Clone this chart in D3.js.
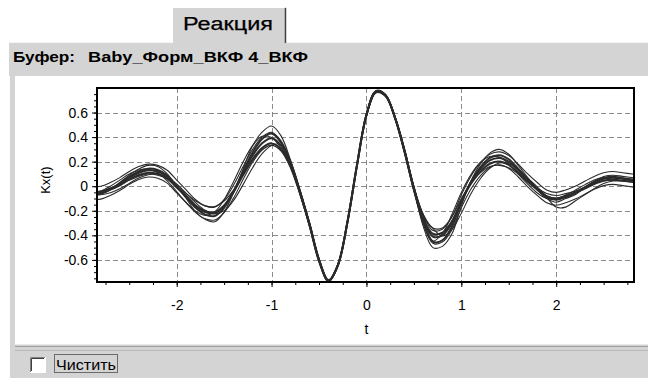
<!DOCTYPE html>
<html><head><meta charset="utf-8">
<script src="https://cdn.jsdelivr.net/npm/d3@7"></script>
<style>
html,body{margin:0;padding:0;background:#fff;}
svg{display:block;}
text{font-family:"Liberation Sans",Arial,sans-serif;}
</style></head><body>
<svg id="chart" width="648" height="381"></svg>
<script>
// Texts
const tabTitle = "Реакция";
const bufferLabel = "Буфер:";
const bufferName = "Baby_Форм_ВКФ 4_ВКФ";
const clearLabel = "Чистить";
const xTitle = "t";
const yTitle = "Kx(t)";

// Axes
const xTicks = [-2, -1, 0, 1, 2];
const yTicks = [-0.6, -0.4, -0.2, 0, 0.2, 0.4, 0.6];
const xDomain = [-2.84, 2.82];
const yDomain = [-0.78, 0.80];

// Lag grid shared by all traces
const tValues = [-2.9,-2.8,-2.7,-2.6,-2.5,-2.4,-2.3,-2.2,-2.1,-2.0,
  -1.9,-1.8,-1.7,-1.6,-1.5,-1.4,-1.3,-1.2,-1.1,-1.0,
  -0.9,-0.8,-0.7,-0.6,-0.5,-0.4,-0.3,-0.2,-0.1,0.0,
  0.1,0.2,0.3,0.4,0.5,0.6,0.7,0.8,0.9,1.0,
  1.1,1.2,1.3,1.4,1.5,1.6,1.7,1.8,1.9,2.0,
  2.1,2.2,2.3,2.4,2.5,2.6,2.7,2.8,2.9];

// Correlation traces Kx(t), one per record in the buffer
const kxMedian = [-0.055,-0.05,-0.02,0.02,0.07,0.11,0.13,0.12,0.08,0.00,
  -0.08,-0.16,-0.21,-0.22,-0.16,-0.04,0.11,0.25,0.35,0.39,
  0.33,0.18,-0.05,-0.31,-0.60,-0.77,-0.64,-0.29,0.17,0.58,
  0.77,0.74,0.56,0.29,-0.02,-0.27,-0.41,-0.40,-0.30,-0.12,
  0.03,0.14,0.21,0.23,0.20,0.13,0.05,-0.02,-0.08,-0.10,
  -0.08,-0.05,-0.01,0.03,0.06,0.07,0.06,0.05,0.04];
const kxMidHigh = [-0.06,-0.055,-0.022,0.022,0.077,0.121,0.143,0.132,0.088,0.00,
  -0.088,-0.176,-0.231,-0.242,-0.176,-0.044,0.121,0.275,0.385,0.429,
  0.356,0.191,-0.052,-0.318,-0.606,-0.772,-0.642,-0.291,0.17,0.58,
  0.772,0.742,0.562,0.296,-0.021,-0.289,-0.451,-0.44,-0.33,-0.132,
  0.033,0.154,0.231,0.253,0.22,0.143,0.055,-0.022,-0.088,-0.11,
  -0.088,-0.055,-0.011,0.033,0.066,0.077,0.066,0.055,0.044];
const kxMidLow = [-0.061,-0.056,-0.028,0.008,0.054,0.091,0.11,0.10,0.064,-0.01,
  -0.084,-0.157,-0.203,-0.212,-0.157,-0.047,0.091,0.22,0.312,0.349,
  0.301,0.165,-0.052,-0.306,-0.596,-0.77,-0.64,-0.29,0.17,0.58,
  0.77,0.74,0.56,0.283,-0.023,-0.262,-0.387,-0.378,-0.286,-0.12,
  0.018,0.119,0.183,0.202,0.174,0.11,0.036,-0.028,-0.084,-0.102,
  -0.084,-0.056,-0.019,0.018,0.045,0.054,0.045,0.036,0.027];
const kxHigh = [-0.07,-0.065,-0.03,0.03,0.09,0.14,0.17,0.16,0.10,0.00,
  -0.10,-0.21,-0.27,-0.29,-0.21,-0.05,0.14,0.33,0.44,0.49,
  0.41,0.21,-0.06,-0.33,-0.62,-0.78,-0.65,-0.30,0.17,0.59,
  0.78,0.75,0.57,0.31,-0.02,-0.33,-0.50,-0.49,-0.39,-0.16,
  0.04,0.18,0.27,0.30,0.26,0.17,0.07,-0.03,-0.10,-0.13,
  -0.10,-0.07,-0.01,0.04,0.08,0.09,0.08,0.07,0.05];
const kxLow = [-0.04,-0.04,-0.015,0.015,0.05,0.08,0.10,0.09,0.06,0.00,
  -0.06,-0.12,-0.16,-0.165,-0.12,-0.03,0.09,0.21,0.31,0.35,
  0.30,0.17,-0.05,-0.30,-0.59,-0.76,-0.63,-0.28,0.17,0.57,
  0.76,0.73,0.55,0.28,-0.01,-0.23,-0.34,-0.34,-0.25,-0.10,
  0.02,0.11,0.16,0.17,0.15,0.10,0.04,-0.015,-0.06,-0.075,
  -0.06,-0.04,-0.01,0.02,0.045,0.05,0.045,0.04,0.03];
const kxUp = [-0.005,0.00,0.03,0.07,0.12,0.16,0.18,0.17,0.13,0.05,
  -0.03,-0.11,-0.16,-0.17,-0.11,0.01,0.16,0.30,0.40,0.44,
  0.37,0.21,-0.03,-0.30,-0.595,-0.768,-0.638,-0.288,0.172,0.582,
  0.772,0.742,0.562,0.30,0.00,-0.235,-0.36,-0.35,-0.25,-0.07,
  0.08,0.19,0.26,0.28,0.25,0.18,0.10,0.03,-0.03,-0.05,
  -0.03,0.00,0.04,0.08,0.11,0.12,0.11,0.10,0.09];
const kxDown = [-0.11,-0.105,-0.075,-0.035,0.015,0.055,0.075,0.065,0.025,-0.055,
  -0.135,-0.215,-0.265,-0.275,-0.215,-0.095,0.055,0.195,0.295,0.335,
  0.286,0.147,-0.072,-0.324,-0.605,-0.772,-0.642,-0.292,0.168,0.578,
  0.768,0.738,0.558,0.279,-0.042,-0.309,-0.465,-0.455,-0.355,-0.175,
  -0.025,0.085,0.155,0.175,0.145,0.075,-0.005,-0.075,-0.135,-0.155,
  -0.135,-0.105,-0.065,-0.025,0.005,0.015,0.005,-0.005,-0.015];
const kxLead = [-0.058,-0.039,0.00,0.05,0.099,0.132,0.138,0.11,0.044,-0.044,
  -0.132,-0.204,-0.237,-0.209,-0.11,0.039,0.198,0.33,0.407,0.396,
  0.31,0.16,-0.06,-0.315,-0.60,-0.77,-0.64,-0.29,0.17,0.58,
  0.77,0.74,0.56,0.285,-0.03,-0.29,-0.446,-0.385,-0.231,-0.05,
  0.094,0.193,0.242,0.237,0.182,0.099,0.017,-0.055,-0.099,-0.099,
  -0.072,-0.033,0.011,0.05,0.072,0.072,0.06,0.05,0.044];
const kxLag = [-0.07,-0.07,-0.053,-0.02,0.023,0.066,0.094,0.099,0.075,0.018,
  -0.058,-0.134,-0.196,-0.224,-0.20,-0.115,0.013,0.151,0.265,0.332,
  0.34,0.20,-0.03,-0.30,-0.595,-0.77,-0.645,-0.295,0.165,0.575,
  0.765,0.745,0.565,0.30,0.00,-0.25,-0.343,-0.405,-0.353,-0.22,
  -0.063,0.061,0.146,0.189,0.184,0.137,0.066,-0.006,-0.09,-0.17,
  -0.17,-0.12,-0.07,-0.02,0.023,0.042,0.042,0.032,0.023];
const outerTraces = [kxHigh, kxLow, kxUp, kxDown, kxLead, kxLag];
const coreTraces = [kxMidHigh, kxMidLow, kxMedian];

const svg = d3.select("#chart");
const panelGray = "#d4d4d4";

// ---- window chrome ----
// tab
svg.append("rect").attr("x", 172).attr("y", 7).attr("width", 114).attr("height", 38).attr("fill", panelGray);
svg.append("path").attr("d", "M172.5,43 V7.5 H285").attr("fill", "none").attr("stroke", "#ffffff").attr("stroke-width", 1);
svg.append("path").attr("d", "M285.5,8 V43").attr("fill", "none").attr("stroke", "#404040").attr("stroke-width", 1.5);
svg.append("text").attr("x", 183).attr("y", 30).attr("font-size", 18)
  .attr("textLength", 90).attr("lengthAdjust", "spacingAndGlyphs")
  .attr("fill", "#000").attr("stroke", "#000").attr("stroke-width", 0.25).text(tabTitle);

// header bar with buffer name
svg.append("rect").attr("x", 9).attr("y", 43).attr("width", 639).attr("height", 33).attr("fill", panelGray);
svg.append("line").attr("x1", 9).attr("x2", 172).attr("y1", 42.5).attr("y2", 42.5).attr("stroke", "#f4f4f4");
svg.append("line").attr("x1", 287).attr("x2", 648).attr("y1", 42.5).attr("y2", 42.5).attr("stroke", "#f4f4f4");
svg.append("text").attr("x", 13).attr("y", 62).attr("font-size", 14).attr("font-weight", "bold")
  .attr("textLength", 62).attr("lengthAdjust", "spacingAndGlyphs").attr("fill", "#000").text(bufferLabel);
svg.append("text").attr("x", 88).attr("y", 62).attr("font-size", 14).attr("font-weight", "bold")
  .attr("textLength", 220).attr("lengthAdjust", "spacingAndGlyphs").attr("fill", "#000").text(bufferName);

// left frame strip
svg.append("rect").attr("x", 10).attr("y", 76).attr("width", 5).attr("height", 270).attr("fill", panelGray);

// bottom bar
svg.append("rect").attr("x", 10).attr("y", 344).attr("width", 638).attr("height", 34).attr("fill", panelGray);
svg.append("line").attr("x1", 15).attr("x2", 648).attr("y1", 344.5).attr("y2", 344.5).attr("stroke", "#e8e8e8");
svg.append("line").attr("x1", 15).attr("x2", 648).attr("y1", 346.5).attr("y2", 346.5).attr("stroke", "#a0a0a0");
svg.append("line").attr("x1", 15).attr("x2", 648).attr("y1", 350.5).attr("y2", 350.5).attr("stroke", "#b8b8b8");
// checkbox
svg.append("rect").attr("x", 30).attr("y", 357).attr("width", 15).attr("height", 15).attr("fill", "#fff");
svg.append("path").attr("d", "M30.5,372 V357.5 H45").attr("fill", "none").attr("stroke", "#808080");
svg.append("path").attr("d", "M31.5,371 V358.5 H44").attr("fill", "none").attr("stroke", "#404040");
svg.append("path").attr("d", "M30,372.5 H45.5 V357").attr("fill", "none").attr("stroke", "#ffffff");
svg.append("text").attr("x", 56).attr("y", 369.5).attr("font-size", 15)
  .attr("textLength", 60).attr("lengthAdjust", "spacingAndGlyphs").attr("fill", "#000").text(clearLabel);
svg.append("rect").attr("x", 54.5).attr("y", 354.5).attr("width", 63).attr("height", 18)
  .attr("fill", "none").attr("stroke", "#000").attr("stroke-dasharray", "1,1");

// ---- plot ----
const plot = {left: 97, right: 634, top: 88, bottom: 282};
const x = d3.scaleLinear().domain(xDomain).range([plot.left, plot.right]);
const y = d3.scaleLinear().domain(yDomain).range([plot.bottom, plot.top]);

// grid
const grid = svg.append("g").attr("stroke", "#8a8a8a").attr("stroke-width", 1).attr("stroke-dasharray", "5,3");
grid.selectAll("line.gx").data(xTicks).join("line")
  .attr("x1", d => Math.round(x(d)) + 0.5).attr("x2", d => Math.round(x(d)) + 0.5)
  .attr("y1", plot.top).attr("y2", plot.bottom);
grid.selectAll("line.gy").data(yTicks).join("line")
  .attr("y1", d => Math.round(y(d)) + 0.5).attr("y2", d => Math.round(y(d)) + 0.5)
  .attr("x1", plot.left).attr("x2", plot.right);

// traces
svg.append("clipPath").attr("id", "clip").append("rect")
  .attr("x", plot.left).attr("y", plot.top).attr("width", plot.right - plot.left).attr("height", plot.bottom - plot.top);
const line = d3.line().x((d, i) => x(tValues[i])).y(d => y(d)).curve(d3.curveCatmullRom.alpha(0.5));
const traceLayer = svg.append("g").attr("clip-path", "url(#clip)").attr("fill", "none").attr("stroke", "#2b2b2b");
traceLayer.selectAll("path.outer").data(outerTraces).join("path").attr("class", "outer")
  .attr("d", line).attr("stroke-width", 1.1);
traceLayer.selectAll("path.core").data(coreTraces).join("path").attr("class", "core")
  .attr("d", line).attr("stroke-width", 2);

// axes
const fmt = d => String(d);
const xMinor = d3.range(-2.75, 2.8, 0.25);
const yMinor = d3.range(-0.75, 0.8, 0.05).map(v => Math.round(v * 100) / 100);
const xAxisMinor = svg.append("g").attr("transform", `translate(0,${plot.bottom})`)
  .call(d3.axisBottom(x).tickValues(xMinor).tickSize(3).tickFormat(""));
const xAxis = svg.append("g").attr("transform", `translate(0,${plot.bottom})`)
  .call(d3.axisBottom(x).tickValues(xTicks).tickSize(5).tickPadding(13).tickFormat(fmt));
const yAxisMinor = svg.append("g").attr("transform", `translate(${plot.left},0)`)
  .call(d3.axisLeft(y).tickValues(yMinor).tickSize(3).tickFormat(""));
const yAxis = svg.append("g").attr("transform", `translate(${plot.left},0)`)
  .call(d3.axisLeft(y).tickValues(yTicks).tickSize(5).tickPadding(4).tickFormat(fmt));
[xAxisMinor, xAxis, yAxisMinor, yAxis].forEach(g => {
  g.select(".domain").remove();
  g.selectAll("line").attr("stroke", "#000");
  g.selectAll("text").attr("font-family", "Liberation Sans, Arial, sans-serif").attr("font-size", 14).attr("fill", "#000");
});

// frame
svg.append("rect").attr("x", plot.left).attr("y", plot.top).attr("width", plot.right - plot.left).attr("height", plot.bottom - plot.top)
  .attr("fill", "none").attr("stroke", "#000").attr("stroke-width", 2);

// axis titles
svg.append("text").attr("x", x(0)).attr("y", 334).attr("text-anchor", "middle").attr("font-size", 14).attr("fill", "#000").text(xTitle);
svg.append("text").attr("transform", `translate(50,${y(0.05)}) rotate(-90)`).attr("text-anchor", "middle")
  .attr("font-size", 13).attr("fill", "#000").text(yTitle);
</script>
</body></html>
